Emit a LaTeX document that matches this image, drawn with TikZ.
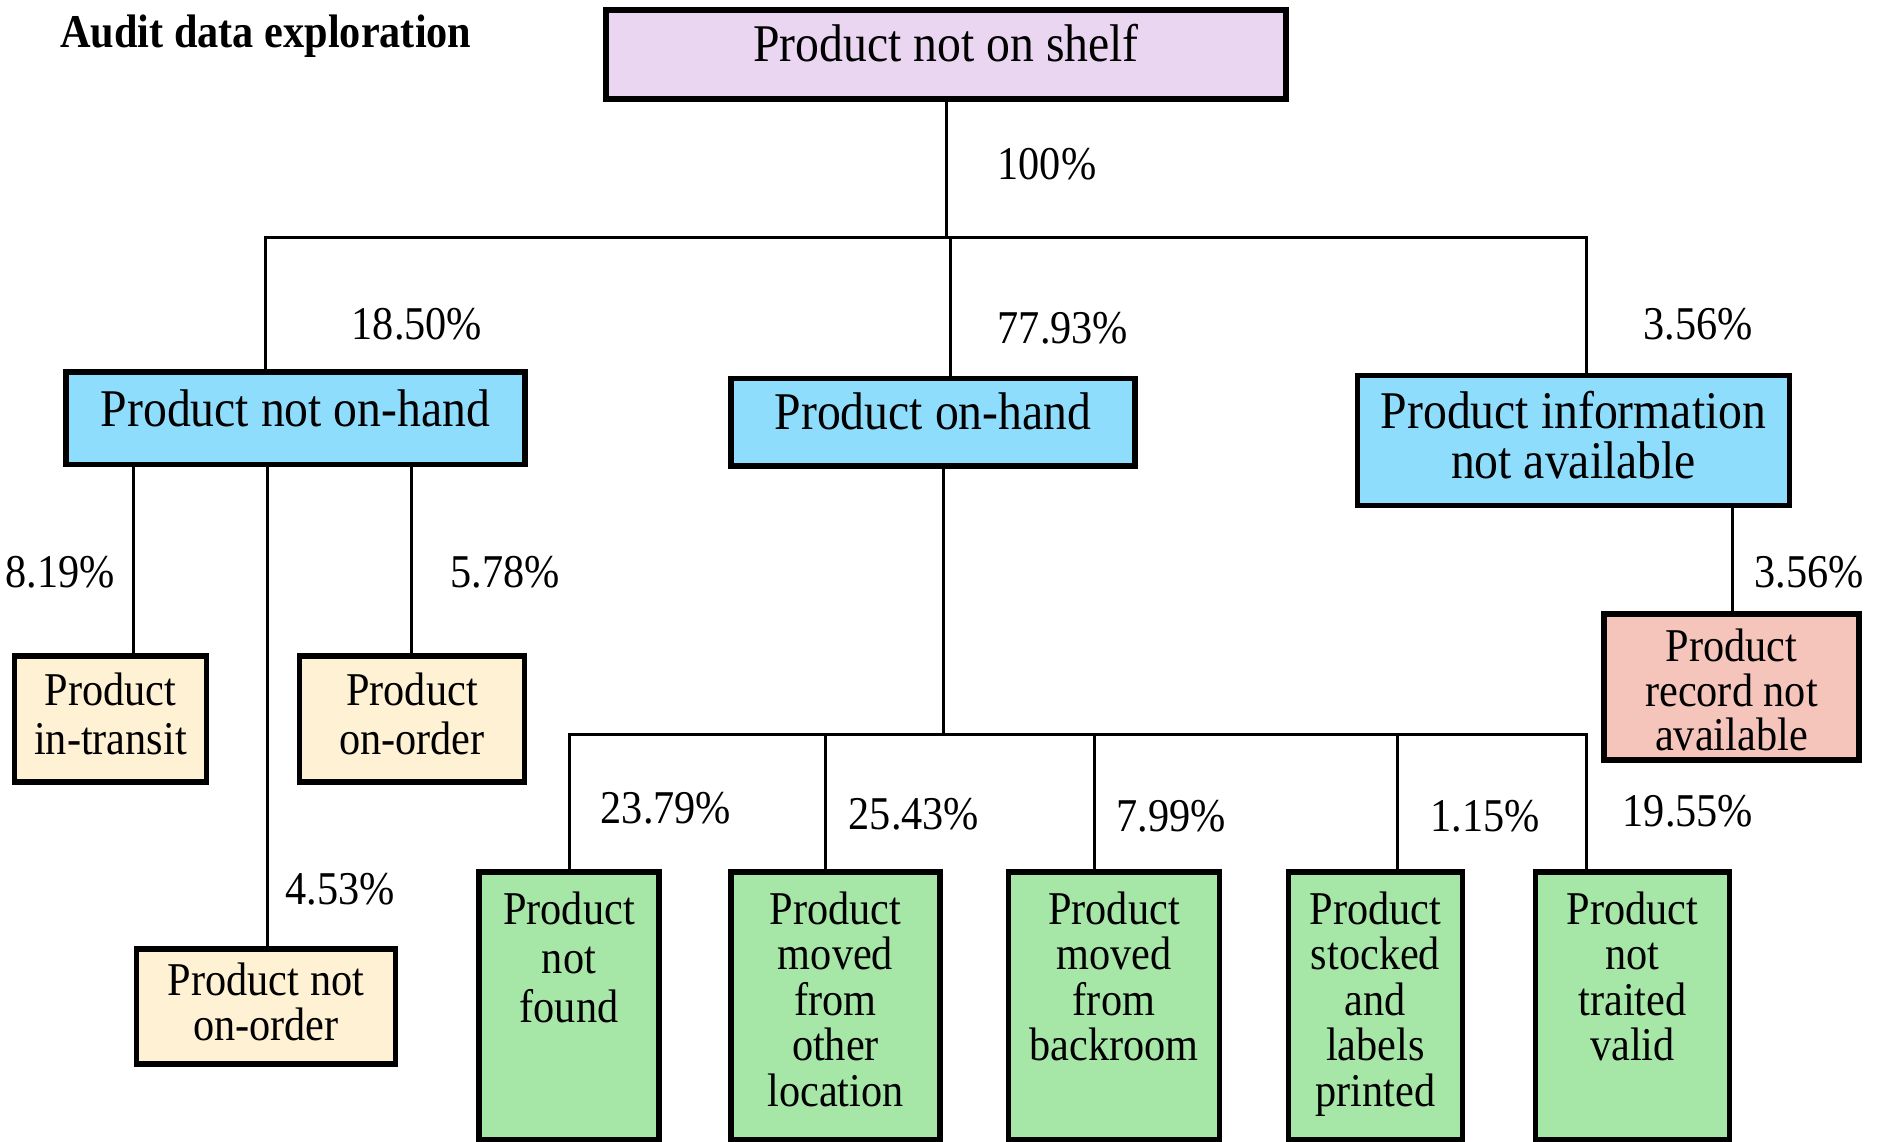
\documentclass[tikz,border=0pt]{standalone}
\usepackage{fontspec}
\setmainfont[FakeStretch=0.9]{Liberation Serif}

\definecolor{rootfill}{RGB}{234,214,240}
\definecolor{branchfill}{RGB}{143,221,252}
\definecolor{causefill}{RGB}{255,242,212}
\definecolor{recordfill}{RGB}{245,197,187}
\definecolor{leaffill}{RGB}{166,230,166}

\newcommand\bigtxt{\fontsize{53}{50}\selectfont}
\newcommand\smalltxt{\fontsize{47}{45.6}\selectfont}
\newcommand\titletxt{\fontsize{47}{47}\selectfont\bfseries}
% box content with top-aligned lines:
% #1 width, #2 height, #3 font size, #4 line spacing, #5 top gap, #6 lines
\newcommand\boxlines[6]{\parbox[c][#2pt][t]{#1pt}{\centering\fontsize{#3}{#4pt}\selectfont\vspace*{#5pt}#6}}

\begin{document}
\begin{tikzpicture}[x=1pt,y=-1pt,
  box/.style={draw=black, line width=5.5pt, inner sep=0pt, align=center, text=black},
  rootbox/.style={box, fill=rootfill, font=\bigtxt},
  branchbox/.style={box, fill=branchfill, font=\bigtxt},
  causebox/.style={box, fill=causefill},
  recordbox/.style={box, fill=recordfill},
  leafbox/.style={box, fill=leaffill},
  pct/.style={font=\smalltxt, inner sep=0pt},
  link/.style={line width=3pt, line join=miter}]

\fill[white] (0,0) rectangle (1881,1142);
\useasboundingbox (0,0) rectangle (1881,1142);

\node[anchor=base west, inner sep=0pt, font=\titletxt] (title) at (60,48) {Audit data exploration};

% root
\node[rootbox, text depth=23pt, minimum width=680pt, minimum height=89pt] (root) at (946,54.5) {Product not on shelf};

% second level
\node[branchbox, text depth=20pt, minimum width=459pt, minimum height=92.5pt] (noh) at (295.5,418) {Product not on-hand};
\node[branchbox, text depth=22pt, minimum width=404pt, minimum height=87.5pt] (onh) at (933,422) {Product on-hand};
\node[branchbox, minimum width=432pt, minimum height=130pt] (info) at (1573.5,440.5)
  {\boxlines{426}{130}{53}{50}{15.5}{Product information\\not available}};

% causes of product not on-hand
\node[causebox, minimum width=192pt, minimum height=126pt] (transit) at (110.5,719)
  {\boxlines{186}{126}{47}{49}{17}{Product\\in-transit}};
\node[causebox, minimum width=225pt, minimum height=126pt] (onorder) at (412,719)
  {\boxlines{219}{126}{47}{49}{17}{Product\\on-order}};
\node[causebox, minimum width=259pt, minimum height=115pt] (notorder) at (266,1006.5)
  {\boxlines{253}{115}{47}{45}{14}{Product not\\on-order}};

% cause of missing information
\node[recordbox, minimum width=255pt, minimum height=146pt] (record) at (1731.5,687)
  {\boxlines{249}{146}{47}{44.5}{15}{Product\\record not\\available}};

% causes of product on-hand
\node[leafbox, minimum width=180pt, minimum height=267.5pt] (g1) at (569,1005.75)
  {\boxlines{174}{267.5}{47}{49}{19.5}{Product\\not\\found}};
\node[leafbox, minimum width=209pt, minimum height=267.5pt] (g2) at (835.5,1005.75)
  {\boxlines{203}{267.5}{47}{45.6}{19.5}{Product\\moved\\from\\other\\location}};
\node[leafbox, minimum width=211pt, minimum height=267.5pt] (g3) at (1114,1005.75)
  {\boxlines{205}{267.5}{47}{45.6}{19.5}{Product\\moved\\from\\backroom}};
\node[leafbox, minimum width=174pt, minimum height=267.5pt] (g4) at (1375.5,1005.75)
  {\boxlines{168}{267.5}{47}{45.6}{19.5}{Product\\stocked\\and\\labels\\printed}};
\node[leafbox, minimum width=194pt, minimum height=267.5pt] (g5) at (1632.5,1005.75)
  {\boxlines{188}{267.5}{47}{45.6}{19.5}{Product\\not\\traited\\valid}};

% junction points
\coordinate (jl) at (265,237);
\coordinate (jm) at (950,237);
\coordinate (jr) at (1586,237);
\coordinate (xa) at (133,0);
\coordinate (xb) at (267,0);
\coordinate (xc) at (411,0);
\coordinate (hb) at (943,734);
\coordinate (k1) at (569,734);
\coordinate (k2) at (825,734);
\coordinate (k3) at (1094,734);
\coordinate (k4) at (1397,734);
\coordinate (k5) at (1586,734);
\coordinate (xr) at (1732,0);

% connectors
\draw[link] (root.south) -- (root.south |- jl);
\draw[link] (noh.north -| jl) -- (jl) -- (jr) -- (info.north -| jr);
\draw[link] (jm) -- (onh.north -| jm);

\draw[link] (noh.south -| xa) -- (transit.north -| xa);
\draw[link] (noh.south -| xb) -- (notorder.north -| xb);
\draw[link] (noh.south -| xc) -- (onorder.north -| xc);

\draw[link] (info.south -| xr) -- (record.north -| xr);

\draw[link] (onh.south -| hb) -- (hb);
\draw[link] (g1.north -| k1) -- (k1) -- (k5) -- (g5.north -| k5);
\draw[link] (k2) -- (g2.north -| k2);
\draw[link] (k3) -- (g3.north -| k3);
\draw[link] (k4) -- (g4.north -| k4);

% shares
\node[pct] (p0) at (1047,164) {100\%};
\node[pct] (p1) at (417,324) {18.50\%};
\node[pct] (p2) at (1063,328) {77.93\%};
\node[pct] (p3) at (1698,324) {3.56\%};
\node[pct] (p4) at (60,572) {8.19\%};
\node[pct] (p5) at (505,572) {5.78\%};
\node[pct] (p6) at (340,889) {4.53\%};
\node[pct] (p7) at (1809,572) {3.56\%};
\node[pct] (p8) at (666,808) {23.79\%};
\node[pct] (p9) at (914,814) {25.43\%};
\node[pct] (p10) at (1171,816) {7.99\%};
\node[pct] (p11) at (1485,816) {1.15\%};
\node[pct] (p12) at (1688,811) {19.55\%};
\end{tikzpicture}
\end{document}
